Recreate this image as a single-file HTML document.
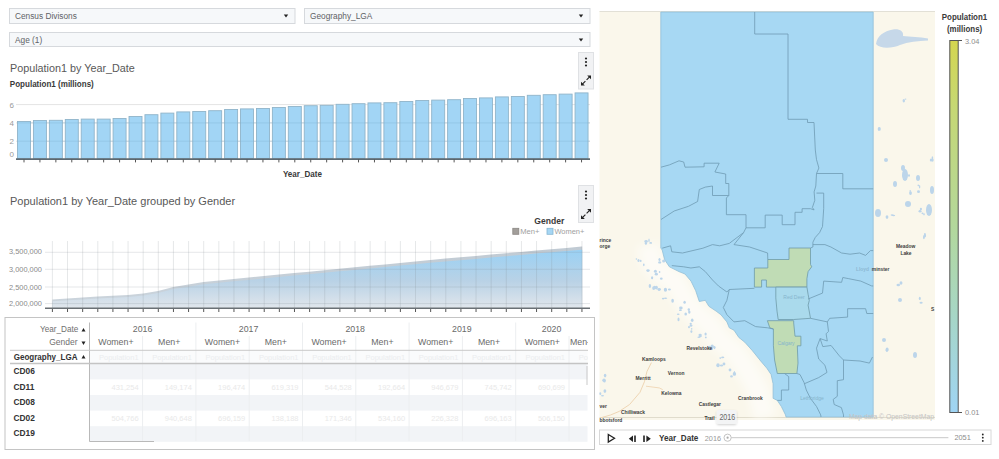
<!DOCTYPE html><html><head><meta charset="utf-8"><style>html,body{margin:0;padding:0;background:#fff;width:999px;height:459px;overflow:hidden}svg{display:block;font-family:"Liberation Sans",sans-serif}</style></head><body>
<svg width="999" height="459" viewBox="0 0 999 459">
<defs><linearGradient id="areaG" gradientUnits="userSpaceOnUse" x1="0" y1="248" x2="0" y2="308"><stop offset="0" stop-color="#98d1f5"/><stop offset="0.55" stop-color="#b9d2e6"/><stop offset="1" stop-color="#e0e6ec"/></linearGradient><linearGradient id="menG" gradientUnits="userSpaceOnUse" x1="0" y1="246" x2="0" y2="308"><stop offset="0" stop-color="#c0cad3"/><stop offset="1" stop-color="#ccd5dd"/></linearGradient><linearGradient id="legG" x1="0" y1="0" x2="0" y2="1"><stop offset="0" stop-color="#d4d650"/><stop offset="0.18" stop-color="#c6d874"/><stop offset="0.5" stop-color="#b3d89c"/><stop offset="0.75" stop-color="#a6d6c8"/><stop offset="1" stop-color="#9fd4f4"/></linearGradient><filter id="sh" x="-20%" y="-20%" width="140%" height="160%"><feDropShadow dx="0" dy="1" stdDeviation="1" flood-color="#000" flood-opacity="0.18"/></filter></defs>
<rect x="9.5" y="8.5" width="285.5" height="15" fill="#f6f8fa" stroke="#d6d9dd" stroke-width="1"/>
<text x="15" y="18.6" font-size="8.3" fill="#606266" font-weight="400" text-anchor="start" >Census Divisons</text>
<path d="M283.8 14.5 L288.2 14.5 L286 17.5 Z" fill="#222"/>
<rect x="304.5" y="8.5" width="285.5" height="15" fill="#f6f8fa" stroke="#d6d9dd" stroke-width="1"/>
<text x="310" y="18.6" font-size="8.3" fill="#606266" font-weight="400" text-anchor="start" >Geography_LGA</text>
<path d="M578.8 14.5 L583.2 14.5 L581 17.5 Z" fill="#222"/>
<rect x="9.5" y="32.5" width="580.5" height="14" fill="#f6f8fa" stroke="#d6d9dd" stroke-width="1"/>
<text x="15" y="42.6" font-size="8.3" fill="#606266" font-weight="400" text-anchor="start" >Age (1)</text>
<path d="M578.8 38.5 L583.2 38.5 L581 41.5 Z" fill="#222"/>
<rect x="578.5" y="52.5" width="15" height="36.5" fill="#f1f2f4" stroke="#dfe1e4" stroke-width="1"/>
<circle cx="586" cy="58.5" r="1.1" fill="#222"/>
<circle cx="586" cy="62" r="1.1" fill="#222"/>
<circle cx="586" cy="65.5" r="1.1" fill="#222"/>
<path d="M586.6 79.9 L589.6 76.9" stroke="#222" stroke-width="1.1"/>
<path d="M591 75.5 L587.2 75.5 L591 79.3 Z" fill="#222"/>
<path d="M585.4 81.1 L582.4 84.1" stroke="#222" stroke-width="1.1"/>
<path d="M581 85.5 L584.8 85.5 L581 81.7 Z" fill="#222"/>
<rect x="578.5" y="185.5" width="15" height="37" fill="#f1f2f4" stroke="#dfe1e4" stroke-width="1"/>
<circle cx="586" cy="191.5" r="1.1" fill="#222"/>
<circle cx="586" cy="195" r="1.1" fill="#222"/>
<circle cx="586" cy="198.5" r="1.1" fill="#222"/>
<path d="M586.6 213.4 L589.6 210.4" stroke="#222" stroke-width="1.1"/>
<path d="M591 209 L587.2 209 L591 212.8 Z" fill="#222"/>
<path d="M585.4 214.6 L582.4 217.6" stroke="#222" stroke-width="1.1"/>
<path d="M581 219 L584.8 219 L581 215.2 Z" fill="#222"/>
<text x="10" y="71.6" font-size="10.8" fill="#585858" font-weight="400" text-anchor="start" >Population1 by Year_Date</text>
<text x="9.8" y="87.2" font-size="8.9" fill="#3a3a3a" font-weight="700" text-anchor="start"  textLength="84" lengthAdjust="spacingAndGlyphs">Population1 (millions)</text>
<line x1="16" y1="104.6" x2="590" y2="104.6" stroke="#e4e4e4" stroke-width="1"/>
<line x1="16" y1="122.9" x2="590" y2="122.9" stroke="#e4e4e4" stroke-width="1"/>
<line x1="16" y1="141.2" x2="590" y2="141.2" stroke="#e4e4e4" stroke-width="1"/>
<text x="9.4" y="107.5" font-size="8" fill="#9a9a9a" font-weight="400" text-anchor="start" >6</text>
<text x="9.4" y="125.8" font-size="8" fill="#9a9a9a" font-weight="400" text-anchor="start" >4</text>
<text x="9.4" y="144.1" font-size="8" fill="#9a9a9a" font-weight="400" text-anchor="start" >2</text>
<text x="9.4" y="157.2" font-size="8" fill="#9a9a9a" font-weight="400" text-anchor="start" >0</text>
<rect x="17.50" y="121.50" width="13" height="36.90" fill="#a2d5f5" stroke="#90b4c9" stroke-width="0.9"/>
<rect x="33.43" y="120.50" width="13" height="37.90" fill="#a2d5f5" stroke="#90b4c9" stroke-width="0.9"/>
<rect x="49.36" y="120.30" width="13" height="38.10" fill="#a2d5f5" stroke="#90b4c9" stroke-width="0.9"/>
<rect x="65.29" y="119.50" width="13" height="38.90" fill="#a2d5f5" stroke="#90b4c9" stroke-width="0.9"/>
<rect x="81.22" y="119.10" width="13" height="39.30" fill="#a2d5f5" stroke="#90b4c9" stroke-width="0.9"/>
<rect x="97.15" y="119.10" width="13" height="39.30" fill="#a2d5f5" stroke="#90b4c9" stroke-width="0.9"/>
<rect x="113.08" y="118.50" width="13" height="39.90" fill="#a2d5f5" stroke="#90b4c9" stroke-width="0.9"/>
<rect x="129.01" y="116.50" width="13" height="41.90" fill="#a2d5f5" stroke="#90b4c9" stroke-width="0.9"/>
<rect x="144.94" y="114.70" width="13" height="43.70" fill="#a2d5f5" stroke="#90b4c9" stroke-width="0.9"/>
<rect x="160.87" y="113.10" width="13" height="45.30" fill="#a2d5f5" stroke="#90b4c9" stroke-width="0.9"/>
<rect x="176.80" y="111.90" width="13" height="46.50" fill="#a2d5f5" stroke="#90b4c9" stroke-width="0.9"/>
<rect x="192.73" y="111.50" width="13" height="46.90" fill="#a2d5f5" stroke="#90b4c9" stroke-width="0.9"/>
<rect x="208.66" y="110.70" width="13" height="47.70" fill="#a2d5f5" stroke="#90b4c9" stroke-width="0.9"/>
<rect x="224.59" y="109.50" width="13" height="48.90" fill="#a2d5f5" stroke="#90b4c9" stroke-width="0.9"/>
<rect x="240.52" y="108.90" width="13" height="49.50" fill="#a2d5f5" stroke="#90b4c9" stroke-width="0.9"/>
<rect x="256.45" y="108.50" width="13" height="49.90" fill="#a2d5f5" stroke="#90b4c9" stroke-width="0.9"/>
<rect x="272.38" y="107.50" width="13" height="50.90" fill="#a2d5f5" stroke="#90b4c9" stroke-width="0.9"/>
<rect x="288.31" y="106.50" width="13" height="51.90" fill="#a2d5f5" stroke="#90b4c9" stroke-width="0.9"/>
<rect x="304.24" y="105.70" width="13" height="52.70" fill="#a2d5f5" stroke="#90b4c9" stroke-width="0.9"/>
<rect x="320.17" y="105.30" width="13" height="53.10" fill="#a2d5f5" stroke="#90b4c9" stroke-width="0.9"/>
<rect x="336.10" y="104.30" width="13" height="54.10" fill="#a2d5f5" stroke="#90b4c9" stroke-width="0.9"/>
<rect x="352.03" y="103.70" width="13" height="54.70" fill="#a2d5f5" stroke="#90b4c9" stroke-width="0.9"/>
<rect x="367.96" y="102.90" width="13" height="55.50" fill="#a2d5f5" stroke="#90b4c9" stroke-width="0.9"/>
<rect x="383.89" y="102.70" width="13" height="55.70" fill="#a2d5f5" stroke="#90b4c9" stroke-width="0.9"/>
<rect x="399.82" y="101.50" width="13" height="56.90" fill="#a2d5f5" stroke="#90b4c9" stroke-width="0.9"/>
<rect x="415.75" y="100.50" width="13" height="57.90" fill="#a2d5f5" stroke="#90b4c9" stroke-width="0.9"/>
<rect x="431.68" y="100.10" width="13" height="58.30" fill="#a2d5f5" stroke="#90b4c9" stroke-width="0.9"/>
<rect x="447.61" y="99.70" width="13" height="58.70" fill="#a2d5f5" stroke="#90b4c9" stroke-width="0.9"/>
<rect x="463.54" y="98.50" width="13" height="59.90" fill="#a2d5f5" stroke="#90b4c9" stroke-width="0.9"/>
<rect x="479.47" y="97.90" width="13" height="60.50" fill="#a2d5f5" stroke="#90b4c9" stroke-width="0.9"/>
<rect x="495.40" y="96.90" width="13" height="61.50" fill="#a2d5f5" stroke="#90b4c9" stroke-width="0.9"/>
<rect x="511.33" y="96.50" width="13" height="61.90" fill="#a2d5f5" stroke="#90b4c9" stroke-width="0.9"/>
<rect x="527.26" y="95.30" width="13" height="63.10" fill="#a2d5f5" stroke="#90b4c9" stroke-width="0.9"/>
<rect x="543.19" y="94.70" width="13" height="63.70" fill="#a2d5f5" stroke="#90b4c9" stroke-width="0.9"/>
<rect x="559.12" y="94.10" width="13" height="64.30" fill="#a2d5f5" stroke="#90b4c9" stroke-width="0.9"/>
<rect x="575.05" y="92.90" width="13" height="65.50" fill="#a2d5f5" stroke="#90b4c9" stroke-width="0.9"/>
<line x1="17" y1="122.9" x2="590" y2="122.9" stroke="#7fb3d0" stroke-opacity="0.35" stroke-width="1"/>
<line x1="17" y1="141.2" x2="590" y2="141.2" stroke="#7fb3d0" stroke-opacity="0.35" stroke-width="1"/>
<line x1="16" y1="159.1" x2="590" y2="159.1" stroke="#5d6a72" stroke-width="1.6"/>
<line x1="24.00" y1="159.4" x2="24.00" y2="162.4" stroke="#555" stroke-width="1"/>
<line x1="39.93" y1="159.4" x2="39.93" y2="162.4" stroke="#555" stroke-width="1"/>
<line x1="55.86" y1="159.4" x2="55.86" y2="162.4" stroke="#555" stroke-width="1"/>
<line x1="71.79" y1="159.4" x2="71.79" y2="162.4" stroke="#555" stroke-width="1"/>
<line x1="87.72" y1="159.4" x2="87.72" y2="162.4" stroke="#555" stroke-width="1"/>
<line x1="103.65" y1="159.4" x2="103.65" y2="162.4" stroke="#555" stroke-width="1"/>
<line x1="119.58" y1="159.4" x2="119.58" y2="162.4" stroke="#555" stroke-width="1"/>
<line x1="135.51" y1="159.4" x2="135.51" y2="162.4" stroke="#555" stroke-width="1"/>
<line x1="151.44" y1="159.4" x2="151.44" y2="162.4" stroke="#555" stroke-width="1"/>
<line x1="167.37" y1="159.4" x2="167.37" y2="162.4" stroke="#555" stroke-width="1"/>
<line x1="183.30" y1="159.4" x2="183.30" y2="162.4" stroke="#555" stroke-width="1"/>
<line x1="199.23" y1="159.4" x2="199.23" y2="162.4" stroke="#555" stroke-width="1"/>
<line x1="215.16" y1="159.4" x2="215.16" y2="162.4" stroke="#555" stroke-width="1"/>
<line x1="231.09" y1="159.4" x2="231.09" y2="162.4" stroke="#555" stroke-width="1"/>
<line x1="247.02" y1="159.4" x2="247.02" y2="162.4" stroke="#555" stroke-width="1"/>
<line x1="262.95" y1="159.4" x2="262.95" y2="162.4" stroke="#555" stroke-width="1"/>
<line x1="278.88" y1="159.4" x2="278.88" y2="162.4" stroke="#555" stroke-width="1"/>
<line x1="294.81" y1="159.4" x2="294.81" y2="162.4" stroke="#555" stroke-width="1"/>
<line x1="310.74" y1="159.4" x2="310.74" y2="162.4" stroke="#555" stroke-width="1"/>
<line x1="326.67" y1="159.4" x2="326.67" y2="162.4" stroke="#555" stroke-width="1"/>
<line x1="342.60" y1="159.4" x2="342.60" y2="162.4" stroke="#555" stroke-width="1"/>
<line x1="358.53" y1="159.4" x2="358.53" y2="162.4" stroke="#555" stroke-width="1"/>
<line x1="374.46" y1="159.4" x2="374.46" y2="162.4" stroke="#555" stroke-width="1"/>
<line x1="390.39" y1="159.4" x2="390.39" y2="162.4" stroke="#555" stroke-width="1"/>
<line x1="406.32" y1="159.4" x2="406.32" y2="162.4" stroke="#555" stroke-width="1"/>
<line x1="422.25" y1="159.4" x2="422.25" y2="162.4" stroke="#555" stroke-width="1"/>
<line x1="438.18" y1="159.4" x2="438.18" y2="162.4" stroke="#555" stroke-width="1"/>
<line x1="454.11" y1="159.4" x2="454.11" y2="162.4" stroke="#555" stroke-width="1"/>
<line x1="470.04" y1="159.4" x2="470.04" y2="162.4" stroke="#555" stroke-width="1"/>
<line x1="485.97" y1="159.4" x2="485.97" y2="162.4" stroke="#555" stroke-width="1"/>
<line x1="501.90" y1="159.4" x2="501.90" y2="162.4" stroke="#555" stroke-width="1"/>
<line x1="517.83" y1="159.4" x2="517.83" y2="162.4" stroke="#555" stroke-width="1"/>
<line x1="533.76" y1="159.4" x2="533.76" y2="162.4" stroke="#555" stroke-width="1"/>
<line x1="549.69" y1="159.4" x2="549.69" y2="162.4" stroke="#555" stroke-width="1"/>
<line x1="565.62" y1="159.4" x2="565.62" y2="162.4" stroke="#555" stroke-width="1"/>
<line x1="581.55" y1="159.4" x2="581.55" y2="162.4" stroke="#555" stroke-width="1"/>
<text x="302.4" y="176.8" font-size="8.5" fill="#3a3a3a" font-weight="700" text-anchor="middle"  textLength="39" lengthAdjust="spacingAndGlyphs">Year_Date</text>
<text x="10" y="204.5" font-size="11" fill="#585858" font-weight="400" text-anchor="start" >Population1 by Year_Date grouped by Gender</text>
<text x="549.3" y="224" font-size="9.2" fill="#3a3a3a" font-weight="700" text-anchor="middle"  textLength="30" lengthAdjust="spacingAndGlyphs">Gender</text>
<rect x="512.8" y="228.3" width="6" height="6" fill="#a29e9a" stroke="#8a8683" stroke-width="0.8"/>
<text x="520.3" y="234.2" font-size="8" fill="#a0a0a0" font-weight="400" text-anchor="start"  textLength="19.2" lengthAdjust="spacingAndGlyphs">Men+</text>
<rect x="547" y="228.3" width="6" height="6" fill="#a6d6f4" stroke="#86b6d2" stroke-width="0.8"/>
<text x="554.4" y="234.2" font-size="8" fill="#a0a0a0" font-weight="400" text-anchor="start"  textLength="30" lengthAdjust="spacingAndGlyphs">Women+</text>
<text x="9" y="254.4" font-size="7.4" fill="#8a8a8a" font-weight="400" text-anchor="start" >3,500,000</text>
<text x="9" y="271.6" font-size="7.4" fill="#8a8a8a" font-weight="400" text-anchor="start" >3,000,000</text>
<text x="9" y="289.6" font-size="7.4" fill="#8a8a8a" font-weight="400" text-anchor="start" >2,500,000</text>
<text x="9" y="306.2" font-size="7.4" fill="#8a8a8a" font-weight="400" text-anchor="start" >2,000,000</text>
<polygon points="52.4,308 52.4,299.4 67.5,298.5 82.6,297.5 97.7,296.5 112.8,295.8 128.0,295.0 143.2,293.6 158.0,291.0 173.4,287.0 188.4,284.5 203.6,282.0 219.0,280.5 233.6,279.0 248.7,277.5 263.9,276.1 279.0,274.6 294.1,273.1 309.2,271.7 324.4,270.2 339.5,268.8 354.6,267.3 369.8,265.8 384.9,264.4 400.0,262.9 415.2,261.4 430.3,260.0 445.4,258.6 460.5,257.3 475.7,255.9 490.8,254.6 505.9,253.3 521.1,251.9 536.2,250.6 551.3,249.2 566.5,247.9 581.6,246.5 582.2,246.5 582.2,308" fill="url(#menG)"/>
<polygon points="52.4,308 52.4,301.2 67.5,300.3 82.6,299.4 97.7,298.4 112.8,297.8 128.0,297.0 143.2,295.6 158.0,293.1 173.4,289.1 188.4,286.7 203.6,284.2 219.0,282.7 233.6,281.3 248.7,279.9 263.9,278.4 279.0,277.0 294.1,275.6 309.2,274.2 324.4,272.7 339.5,271.3 354.6,269.9 369.8,268.5 384.9,267.0 400.0,265.6 415.2,264.2 430.3,262.8 445.4,261.5 460.5,260.2 475.7,258.9 490.8,257.6 505.9,256.3 521.1,255.0 536.2,253.6 551.3,252.3 566.5,251.0 581.6,249.7 582.2,249.7 582.2,308" fill="url(#areaG)"/>
<line x1="45" y1="252.3" x2="590" y2="252.3" stroke="#7d8891" stroke-opacity="0.2" stroke-width="1"/>
<line x1="45" y1="269.3" x2="590" y2="269.3" stroke="#7d8891" stroke-opacity="0.2" stroke-width="1"/>
<line x1="45" y1="287" x2="590" y2="287" stroke="#7d8891" stroke-opacity="0.2" stroke-width="1"/>
<line x1="45" y1="303.6" x2="590" y2="303.6" stroke="#7d8891" stroke-opacity="0.2" stroke-width="1"/>
<line x1="52.40" y1="241" x2="52.40" y2="308" stroke="#7d8891" stroke-opacity="0.22" stroke-width="0.9"/>
<line x1="67.53" y1="241" x2="67.53" y2="308" stroke="#7d8891" stroke-opacity="0.22" stroke-width="0.9"/>
<line x1="82.66" y1="241" x2="82.66" y2="308" stroke="#7d8891" stroke-opacity="0.22" stroke-width="0.9"/>
<line x1="97.79" y1="241" x2="97.79" y2="308" stroke="#7d8891" stroke-opacity="0.22" stroke-width="0.9"/>
<line x1="112.92" y1="241" x2="112.92" y2="308" stroke="#7d8891" stroke-opacity="0.22" stroke-width="0.9"/>
<line x1="128.05" y1="241" x2="128.05" y2="308" stroke="#7d8891" stroke-opacity="0.22" stroke-width="0.9"/>
<line x1="143.18" y1="241" x2="143.18" y2="308" stroke="#7d8891" stroke-opacity="0.22" stroke-width="0.9"/>
<line x1="158.31" y1="241" x2="158.31" y2="308" stroke="#7d8891" stroke-opacity="0.22" stroke-width="0.9"/>
<line x1="173.44" y1="241" x2="173.44" y2="308" stroke="#7d8891" stroke-opacity="0.22" stroke-width="0.9"/>
<line x1="188.57" y1="241" x2="188.57" y2="308" stroke="#7d8891" stroke-opacity="0.22" stroke-width="0.9"/>
<line x1="203.70" y1="241" x2="203.70" y2="308" stroke="#7d8891" stroke-opacity="0.22" stroke-width="0.9"/>
<line x1="218.83" y1="241" x2="218.83" y2="308" stroke="#7d8891" stroke-opacity="0.22" stroke-width="0.9"/>
<line x1="233.96" y1="241" x2="233.96" y2="308" stroke="#7d8891" stroke-opacity="0.22" stroke-width="0.9"/>
<line x1="249.09" y1="241" x2="249.09" y2="308" stroke="#7d8891" stroke-opacity="0.22" stroke-width="0.9"/>
<line x1="264.22" y1="241" x2="264.22" y2="308" stroke="#7d8891" stroke-opacity="0.22" stroke-width="0.9"/>
<line x1="279.35" y1="241" x2="279.35" y2="308" stroke="#7d8891" stroke-opacity="0.22" stroke-width="0.9"/>
<line x1="294.48" y1="241" x2="294.48" y2="308" stroke="#7d8891" stroke-opacity="0.22" stroke-width="0.9"/>
<line x1="309.61" y1="241" x2="309.61" y2="308" stroke="#7d8891" stroke-opacity="0.22" stroke-width="0.9"/>
<line x1="324.74" y1="241" x2="324.74" y2="308" stroke="#7d8891" stroke-opacity="0.22" stroke-width="0.9"/>
<line x1="339.87" y1="241" x2="339.87" y2="308" stroke="#7d8891" stroke-opacity="0.22" stroke-width="0.9"/>
<line x1="355.00" y1="241" x2="355.00" y2="308" stroke="#7d8891" stroke-opacity="0.22" stroke-width="0.9"/>
<line x1="370.13" y1="241" x2="370.13" y2="308" stroke="#7d8891" stroke-opacity="0.22" stroke-width="0.9"/>
<line x1="385.26" y1="241" x2="385.26" y2="308" stroke="#7d8891" stroke-opacity="0.22" stroke-width="0.9"/>
<line x1="400.39" y1="241" x2="400.39" y2="308" stroke="#7d8891" stroke-opacity="0.22" stroke-width="0.9"/>
<line x1="415.52" y1="241" x2="415.52" y2="308" stroke="#7d8891" stroke-opacity="0.22" stroke-width="0.9"/>
<line x1="430.65" y1="241" x2="430.65" y2="308" stroke="#7d8891" stroke-opacity="0.22" stroke-width="0.9"/>
<line x1="445.78" y1="241" x2="445.78" y2="308" stroke="#7d8891" stroke-opacity="0.22" stroke-width="0.9"/>
<line x1="460.91" y1="241" x2="460.91" y2="308" stroke="#7d8891" stroke-opacity="0.22" stroke-width="0.9"/>
<line x1="476.04" y1="241" x2="476.04" y2="308" stroke="#7d8891" stroke-opacity="0.22" stroke-width="0.9"/>
<line x1="491.17" y1="241" x2="491.17" y2="308" stroke="#7d8891" stroke-opacity="0.22" stroke-width="0.9"/>
<line x1="506.30" y1="241" x2="506.30" y2="308" stroke="#7d8891" stroke-opacity="0.22" stroke-width="0.9"/>
<line x1="521.43" y1="241" x2="521.43" y2="308" stroke="#7d8891" stroke-opacity="0.22" stroke-width="0.9"/>
<line x1="536.56" y1="241" x2="536.56" y2="308" stroke="#7d8891" stroke-opacity="0.22" stroke-width="0.9"/>
<line x1="551.69" y1="241" x2="551.69" y2="308" stroke="#7d8891" stroke-opacity="0.22" stroke-width="0.9"/>
<line x1="566.82" y1="241" x2="566.82" y2="308" stroke="#7d8891" stroke-opacity="0.22" stroke-width="0.9"/>
<line x1="581.95" y1="241" x2="581.95" y2="308" stroke="#7d8891" stroke-opacity="0.22" stroke-width="0.9"/>
<line x1="45" y1="308.3" x2="590" y2="308.3" stroke="#6a7075" stroke-width="1.6"/>
<line x1="52.40" y1="309" x2="52.40" y2="312" stroke="#555" stroke-width="1"/>
<line x1="67.53" y1="309" x2="67.53" y2="312" stroke="#555" stroke-width="1"/>
<line x1="82.66" y1="309" x2="82.66" y2="312" stroke="#555" stroke-width="1"/>
<line x1="97.79" y1="309" x2="97.79" y2="312" stroke="#555" stroke-width="1"/>
<line x1="112.92" y1="309" x2="112.92" y2="312" stroke="#555" stroke-width="1"/>
<line x1="128.05" y1="309" x2="128.05" y2="312" stroke="#555" stroke-width="1"/>
<line x1="143.18" y1="309" x2="143.18" y2="312" stroke="#555" stroke-width="1"/>
<line x1="158.31" y1="309" x2="158.31" y2="312" stroke="#555" stroke-width="1"/>
<line x1="173.44" y1="309" x2="173.44" y2="312" stroke="#555" stroke-width="1"/>
<line x1="188.57" y1="309" x2="188.57" y2="312" stroke="#555" stroke-width="1"/>
<line x1="203.70" y1="309" x2="203.70" y2="312" stroke="#555" stroke-width="1"/>
<line x1="218.83" y1="309" x2="218.83" y2="312" stroke="#555" stroke-width="1"/>
<line x1="233.96" y1="309" x2="233.96" y2="312" stroke="#555" stroke-width="1"/>
<line x1="249.09" y1="309" x2="249.09" y2="312" stroke="#555" stroke-width="1"/>
<line x1="264.22" y1="309" x2="264.22" y2="312" stroke="#555" stroke-width="1"/>
<line x1="279.35" y1="309" x2="279.35" y2="312" stroke="#555" stroke-width="1"/>
<line x1="294.48" y1="309" x2="294.48" y2="312" stroke="#555" stroke-width="1"/>
<line x1="309.61" y1="309" x2="309.61" y2="312" stroke="#555" stroke-width="1"/>
<line x1="324.74" y1="309" x2="324.74" y2="312" stroke="#555" stroke-width="1"/>
<line x1="339.87" y1="309" x2="339.87" y2="312" stroke="#555" stroke-width="1"/>
<line x1="355.00" y1="309" x2="355.00" y2="312" stroke="#555" stroke-width="1"/>
<line x1="370.13" y1="309" x2="370.13" y2="312" stroke="#555" stroke-width="1"/>
<line x1="385.26" y1="309" x2="385.26" y2="312" stroke="#555" stroke-width="1"/>
<line x1="400.39" y1="309" x2="400.39" y2="312" stroke="#555" stroke-width="1"/>
<line x1="415.52" y1="309" x2="415.52" y2="312" stroke="#555" stroke-width="1"/>
<line x1="430.65" y1="309" x2="430.65" y2="312" stroke="#555" stroke-width="1"/>
<line x1="445.78" y1="309" x2="445.78" y2="312" stroke="#555" stroke-width="1"/>
<line x1="460.91" y1="309" x2="460.91" y2="312" stroke="#555" stroke-width="1"/>
<line x1="476.04" y1="309" x2="476.04" y2="312" stroke="#555" stroke-width="1"/>
<line x1="491.17" y1="309" x2="491.17" y2="312" stroke="#555" stroke-width="1"/>
<line x1="506.30" y1="309" x2="506.30" y2="312" stroke="#555" stroke-width="1"/>
<line x1="521.43" y1="309" x2="521.43" y2="312" stroke="#555" stroke-width="1"/>
<line x1="536.56" y1="309" x2="536.56" y2="312" stroke="#555" stroke-width="1"/>
<line x1="551.69" y1="309" x2="551.69" y2="312" stroke="#555" stroke-width="1"/>
<line x1="566.82" y1="309" x2="566.82" y2="312" stroke="#555" stroke-width="1"/>
<line x1="581.95" y1="309" x2="581.95" y2="312" stroke="#555" stroke-width="1"/>
<rect x="5" y="317.5" width="589.5" height="132" fill="#fff" stroke="#c4c4c4" stroke-width="1"/>
<rect x="89.5" y="363.8" width="498" height="15.6" fill="#f2f4f7"/>
<rect x="89.5" y="395.0" width="498" height="15.6" fill="#f2f4f7"/>
<rect x="89.5" y="426.2" width="498" height="15.6" fill="#f2f4f7"/>
<rect x="89.5" y="350.5" width="498" height="13" fill="#fafbfc"/>
<line x1="142.6" y1="336" x2="142.6" y2="441" stroke="#eceef0" stroke-width="1"/>
<line x1="195.9" y1="322.5" x2="195.9" y2="441" stroke="#eceef0" stroke-width="1"/>
<line x1="249.2" y1="336" x2="249.2" y2="441" stroke="#eceef0" stroke-width="1"/>
<line x1="302.5" y1="322.5" x2="302.5" y2="441" stroke="#eceef0" stroke-width="1"/>
<line x1="355.8" y1="336" x2="355.8" y2="441" stroke="#eceef0" stroke-width="1"/>
<line x1="409.1" y1="322.5" x2="409.1" y2="441" stroke="#eceef0" stroke-width="1"/>
<line x1="462.4" y1="336" x2="462.4" y2="441" stroke="#eceef0" stroke-width="1"/>
<line x1="515.7" y1="322.5" x2="515.7" y2="441" stroke="#eceef0" stroke-width="1"/>
<line x1="569.0" y1="336" x2="569.0" y2="441" stroke="#eceef0" stroke-width="1"/>
<line x1="89.5" y1="322.5" x2="89.5" y2="441.5" stroke="#b9b9b9" stroke-width="1"/>
<line x1="10" y1="350.3" x2="588" y2="350.3" stroke="#c8c8c8" stroke-width="1"/>
<line x1="10" y1="363.5" x2="588" y2="363.5" stroke="#c4c4c4" stroke-width="1.4"/>
<line x1="89.5" y1="441.5" x2="154" y2="441.5" stroke="#b9b9b9" stroke-width="1"/>
<line x1="587" y1="366" x2="587" y2="385" stroke="#c9c9c9" stroke-width="1"/>
<text x="78.4" y="332.2" font-size="8.2" fill="#707070" font-weight="400" text-anchor="end" >Year_Date</text>
<path d="M81.5 331.5 L85.5 331.5 L83.5 328 Z" fill="#222"/>
<text x="77.5" y="345.2" font-size="8.5" fill="#707070" font-weight="400" text-anchor="end" >Gender</text>
<path d="M81.5 341.5 L85.5 341.5 L83.5 345 Z" fill="#222"/>
<text x="13.7" y="359.6" font-size="8.3" fill="#333" font-weight="700" text-anchor="start"  textLength="63.8" lengthAdjust="spacingAndGlyphs">Geography_LGA</text>
<path d="M81.5 358.5 L85.5 358.5 L83.5 355 Z" fill="#222"/>
<text x="13.5" y="373.9" font-size="8.4" fill="#333" font-weight="700" text-anchor="start" >CD06</text>
<text x="13.5" y="389.5" font-size="8.4" fill="#333" font-weight="700" text-anchor="start" >CD11</text>
<text x="13.5" y="405.09999999999997" font-size="8.4" fill="#333" font-weight="700" text-anchor="start" >CD08</text>
<text x="13.5" y="420.7" font-size="8.4" fill="#333" font-weight="700" text-anchor="start" >CD02</text>
<text x="13.5" y="436.29999999999995" font-size="8.4" fill="#333" font-weight="700" text-anchor="start" >CD19</text>
<text x="142.6" y="332.3" font-size="8.8" fill="#6a6a6a" font-weight="400" text-anchor="middle" >2016</text>
<text x="248.6" y="332.3" font-size="8.8" fill="#6a6a6a" font-weight="400" text-anchor="middle" >2017</text>
<text x="355.2" y="332.3" font-size="8.8" fill="#6a6a6a" font-weight="400" text-anchor="middle" >2018</text>
<text x="461.8" y="332.3" font-size="8.8" fill="#6a6a6a" font-weight="400" text-anchor="middle" >2019</text>
<text x="551.6" y="332.3" font-size="8.8" fill="#6a6a6a" font-weight="400" text-anchor="middle" >2020</text>
<text x="115.9" y="345.3" font-size="8.8" fill="#6a6a6a" font-weight="400" text-anchor="middle" >Women+</text>
<text x="169.2" y="345.3" font-size="8.8" fill="#6a6a6a" font-weight="400" text-anchor="middle" >Men+</text>
<text x="222.49999999999997" y="345.3" font-size="8.8" fill="#6a6a6a" font-weight="400" text-anchor="middle" >Women+</text>
<text x="275.8" y="345.3" font-size="8.8" fill="#6a6a6a" font-weight="400" text-anchor="middle" >Men+</text>
<text x="329.1" y="345.3" font-size="8.8" fill="#6a6a6a" font-weight="400" text-anchor="middle" >Women+</text>
<text x="382.40000000000003" y="345.3" font-size="8.8" fill="#6a6a6a" font-weight="400" text-anchor="middle" >Men+</text>
<text x="435.7" y="345.3" font-size="8.8" fill="#6a6a6a" font-weight="400" text-anchor="middle" >Women+</text>
<text x="489.0" y="345.3" font-size="8.8" fill="#6a6a6a" font-weight="400" text-anchor="middle" >Men+</text>
<text x="542.3" y="345.3" font-size="8.8" fill="#6a6a6a" font-weight="400" text-anchor="middle" >Women+</text>
<text x="570" y="345.3" font-size="8.8" fill="#6a6a6a" font-weight="400" text-anchor="start" >Men-</text>
<clipPath id="tclip"><rect x="89.5" y="320" width="498.5" height="125"/></clipPath><g clip-path="url(#tclip)">
<text x="138.6" y="359.8" font-size="7.5" fill="#ebedef" font-weight="400" text-anchor="end" >Population1</text>
<text x="138.6" y="389.5" font-size="7.5" fill="#e9e9e9" font-weight="400" text-anchor="end" >431,254</text>
<text x="138.6" y="420.7" font-size="7.5" fill="#e9e9e9" font-weight="400" text-anchor="end" >504,766</text>
<text x="191.89999999999998" y="359.8" font-size="7.5" fill="#ebedef" font-weight="400" text-anchor="end" >Population1</text>
<text x="191.89999999999998" y="389.5" font-size="7.5" fill="#e9e9e9" font-weight="400" text-anchor="end" >149,174</text>
<text x="191.89999999999998" y="420.7" font-size="7.5" fill="#e9e9e9" font-weight="400" text-anchor="end" >940,648</text>
<text x="245.2" y="359.8" font-size="7.5" fill="#ebedef" font-weight="400" text-anchor="end" >Population1</text>
<text x="245.2" y="389.5" font-size="7.5" fill="#e9e9e9" font-weight="400" text-anchor="end" >196,474</text>
<text x="245.2" y="420.7" font-size="7.5" fill="#e9e9e9" font-weight="400" text-anchor="end" >696,159</text>
<text x="298.5" y="359.8" font-size="7.5" fill="#ebedef" font-weight="400" text-anchor="end" >Population1</text>
<text x="298.5" y="389.5" font-size="7.5" fill="#e9e9e9" font-weight="400" text-anchor="end" >619,319</text>
<text x="298.5" y="420.7" font-size="7.5" fill="#e9e9e9" font-weight="400" text-anchor="end" >138,188</text>
<text x="351.8" y="359.8" font-size="7.5" fill="#ebedef" font-weight="400" text-anchor="end" >Population1</text>
<text x="351.8" y="389.5" font-size="7.5" fill="#e9e9e9" font-weight="400" text-anchor="end" >544,528</text>
<text x="351.8" y="420.7" font-size="7.5" fill="#e9e9e9" font-weight="400" text-anchor="end" >171,346</text>
<text x="405.09999999999997" y="359.8" font-size="7.5" fill="#ebedef" font-weight="400" text-anchor="end" >Population1</text>
<text x="405.09999999999997" y="389.5" font-size="7.5" fill="#e9e9e9" font-weight="400" text-anchor="end" >192,664</text>
<text x="405.09999999999997" y="420.7" font-size="7.5" fill="#e9e9e9" font-weight="400" text-anchor="end" >534,160</text>
<text x="458.4" y="359.8" font-size="7.5" fill="#ebedef" font-weight="400" text-anchor="end" >Population1</text>
<text x="458.4" y="389.5" font-size="7.5" fill="#e9e9e9" font-weight="400" text-anchor="end" >946,679</text>
<text x="458.4" y="420.7" font-size="7.5" fill="#e9e9e9" font-weight="400" text-anchor="end" >226,328</text>
<text x="511.69999999999993" y="359.8" font-size="7.5" fill="#ebedef" font-weight="400" text-anchor="end" >Population1</text>
<text x="511.69999999999993" y="389.5" font-size="7.5" fill="#e9e9e9" font-weight="400" text-anchor="end" >745,742</text>
<text x="511.69999999999993" y="420.7" font-size="7.5" fill="#e9e9e9" font-weight="400" text-anchor="end" >696,163</text>
<text x="565.0" y="359.8" font-size="7.5" fill="#ebedef" font-weight="400" text-anchor="end" >Population1</text>
<text x="565.0" y="389.5" font-size="7.5" fill="#e9e9e9" font-weight="400" text-anchor="end" >690,699</text>
<text x="565.0" y="420.7" font-size="7.5" fill="#e9e9e9" font-weight="400" text-anchor="end" >506,150</text>
<text x="618.3" y="359.8" font-size="7.5" fill="#ebedef" font-weight="400" text-anchor="end" >Population1</text>
<text x="618.3" y="389.5" font-size="7.5" fill="#e9e9e9" font-weight="400" text-anchor="end" >326,147</text>
<text x="618.3" y="420.7" font-size="7.5" fill="#e9e9e9" font-weight="400" text-anchor="end" >670,979</text>
</g>
<rect x="588" y="322" width="6" height="127" fill="#fff"/>
<rect x="599.5" y="11" width="335.5" height="409" fill="#faf7eb"/>
<line x1="599.5" y1="11.5" x2="935" y2="11.5" stroke="#e2e0d6" stroke-width="1"/>
<line x1="599.5" y1="417.5" x2="935" y2="417.5" stroke="#d9d4c4" stroke-width="0.8"/>
<rect x="935" y="11" width="64" height="420" fill="#fff"/>
<path d="M876 44 C877 36 884 31 893 29.5 C899 28.5 904 31 903 36 C910 37 920 37 928 38.5 L928 40.5 C918 41 908 42 900 45 C892 48.5 880 49 876 44 Z" fill="#c6d8e9"/>
<polyline points="651.4,362.6 647,371.4 644.4,381.8 640,392.3 629.6,404.5 619.2,411.4 610.5,415 600,418" fill="none" stroke="#efd6b4" stroke-width="1"/>
<polyline points="646,386.2 659.2,387.9 662.7,389.6" fill="none" stroke="#efd6b4" stroke-width="0.9"/>
<filter id="wb" x="-30%" y="-10%" width="160%" height="120%"><feGaussianBlur stdDeviation="4"/></filter>
<polyline points="648,245 652,262 660,272 675,282 685,300 695,312 710,325 720,340 735,352 748,372 758,390 765,418" fill="none" stroke="#ffffff" stroke-opacity="0.55" stroke-width="22" filter="url(#wb)"/>
<polygon points="660.8,12 873.2,12 873.2,417 786,417 785.5,414.9 781.4,406.6 777.3,400.4 773.1,398.3 773.1,383.8 771.1,374.5 766.9,368.3 760.7,361 752.4,350.7 744.8,342.2 738.8,337.4 734,330.2 729.3,327.8 726.9,321.9 720.9,314.7 716.1,311.1 708.9,306.3 705.3,300.3 699.3,301.5 695.7,290.7 691,281.1 685,274 679,271.6 669.4,266.8 664.6,259.6 662.2,250 660.8,248" fill="#a7d8f3" stroke="#92bfd8" stroke-width="0.8"/>
<polygon points="754.4,268 767.8,268 767.8,259.5 789,259.5 789,248 810.5,248 810.5,264.4 811.7,266.8 808.1,271.6 806.9,278.7 806.9,287.1 766.4,287.1 766.4,280 761.6,280 761.6,287.1 754.4,287.1" fill="#c0dcb5" stroke="#6f9aa8" stroke-width="0.8"/>
<polygon points="775.8,287.1 806.9,287.1 808.1,294.3 809.3,300.3 808.1,305.1 810.5,318.3 793.7,319.5 778.2,319.5 777,311.1 775.8,297.9" fill="#aadaec" stroke="#6f9aa8" stroke-width="0.8"/>
<polygon points="767.4,320.7 793.7,320.7 793.7,323 795,336.2 800.9,336.2 800.9,345.8 797.3,345.8 798,363.1 796.9,373.5 777.3,373.5 774.6,360 773.4,345.8 773.4,329 769.8,327.8" fill="#c0dcb5" stroke="#6f9aa8" stroke-width="0.8"/>
<polyline points="754.7,12 754.7,34 788,34 788,119.3 807.5,119.3 807.5,122.5 814,122.5 815.3,150 816.5,159.6 818.9,168 816.5,173.5 815.8,186 814.1,191.9 814.8,200.3 812.4,207.5 814.1,209.9 810.5,208.7 802.1,208.7 802.1,212.3 795,212.3 795,224.7 782.2,224.7 782.2,215.1 765.2,215.1 765.2,227.8 746,227.8 746,214.7 726.4,214.7 726.4,198 728.8,195.5 728.8,183.5 725.7,183.5 725.7,174 714.9,172 719.2,163.2 704.1,163.2 704.1,166.8 685,167.2 683.7,162 679,160.8 669.4,164.9 661,167.2" fill="none" stroke="#6f9ab2" stroke-width="0.8"/>
<polyline points="728.8,195.5 712.5,195.5 712.5,186 705.3,187.1 699.3,189.5 697.6,201.5 688.5,206.3 674.2,211 661,219.5" fill="none" stroke="#6f9ab2" stroke-width="0.8"/>
<polyline points="816.5,173.5 842.8,173.5 842.8,188.8 873.2,188.8" fill="none" stroke="#6f9ab2" stroke-width="0.8"/>
<polyline points="816.5,193.1 823.7,193.1 823.7,208.7 822.5,226.6 821.3,229 819.6,232.6 815.3,237.4 812.9,242.2 812.9,247 810.5,248" fill="none" stroke="#6f9ab2" stroke-width="0.8"/>
<polyline points="812.9,244.6 824.9,244.6 830.9,247 841.6,253 850,254.2 859.6,253 865.6,255.4 870.4,250.6 873.2,250.6" fill="none" stroke="#6f9ab2" stroke-width="0.8"/>
<polyline points="746,227.8 743.6,232.6 734,239.8 729.3,243.4 719.7,245.8 712.5,244.6 702.9,248.2 682.5,253 671.8,251.8 670.6,245.8 662.2,248.2" fill="none" stroke="#6f9ab2" stroke-width="0.8"/>
<polyline points="743.6,232.6 734,244.6 749.6,247 767.6,253 767.8,259.5" fill="none" stroke="#6f9ab2" stroke-width="0.8"/>
<polyline points="671.8,265.6 683.7,266.8 690.9,268 699.3,266.8 705.3,271.6 712.5,280 718.5,286 726.9,292 729.3,289.5 754.4,288.3" fill="none" stroke="#6f9ab2" stroke-width="0.8"/>
<polyline points="729.3,289.5 726.9,300.3 723.3,307.5 726.9,314.7 734,321.9 744.8,320.7 755.6,326.6 767.6,327.8 773.4,329" fill="none" stroke="#6f9ab2" stroke-width="0.8"/>
<polyline points="808.1,299 822.5,293.1 823.7,281.1 841.6,282.3 842.8,277.5 848.8,278.7 860.8,281.1 871.6,285.9 873.2,286" fill="none" stroke="#6f9ab2" stroke-width="0.8"/>
<polyline points="810.5,318.3 827.3,321.9 829.7,318.3 847.6,317.1 847.6,308.7 865.6,308.7 866.8,313.5 873.2,313.5" fill="none" stroke="#6f9ab2" stroke-width="0.8"/>
<polyline points="827.3,321.9 828.5,331.4 826.1,333.8 827.3,341 820.1,338.6 822.8,346.6 831.1,345.5 839.4,355.9 843.5,360 843.5,379.7 837.3,380.7 837.3,396.3 833.2,399.4 834.2,404.5 841.4,407.6 843.5,414.9 843.5,417" fill="none" stroke="#6f9ab2" stroke-width="0.8"/>
<polyline points="820.1,338.6 816.5,348.2 818.7,359 824.9,365.2 827,372.4 818.7,377.6 804.2,383.8" fill="none" stroke="#6f9ab2" stroke-width="0.8"/>
<polyline points="796.9,373.5 800,374.5 804.2,382.8 806.3,390 810.4,398.3 816.6,406.6 820.7,414.9 821,417" fill="none" stroke="#6f9ab2" stroke-width="0.8"/>
<polyline points="784.5,373.5 788.7,376.6 788.7,390 781.4,390 781.4,400.4 777.3,400.4" fill="none" stroke="#6f9ab2" stroke-width="0.8"/>
<polyline points="843.5,360 860,361 869.4,363.1 872.5,357" fill="none" stroke="#6f9ab2" stroke-width="0.8"/>
<ellipse cx="645.9" cy="243.3" rx="1.1" ry="1.5" fill="#bcd5ea"/>
<ellipse cx="649.0" cy="240.4" rx="0.7" ry="1.8" fill="#bcd5ea"/>
<ellipse cx="646.1" cy="241.4" rx="1.8" ry="1.3" fill="#bcd5ea"/>
<ellipse cx="650.7" cy="242.9" rx="1.4" ry="0.9" fill="#bcd5ea"/>
<ellipse cx="654.7" cy="287.4" rx="1.3" ry="1.7" fill="#bcd5ea"/>
<ellipse cx="655.4" cy="271.3" rx="1.5" ry="1.5" fill="#bcd5ea"/>
<ellipse cx="648.0" cy="270.6" rx="1.7" ry="1.3" fill="#bcd5ea"/>
<ellipse cx="656.4" cy="287.6" rx="1.5" ry="1.9" fill="#bcd5ea"/>
<ellipse cx="649.9" cy="286.0" rx="1.2" ry="1.9" fill="#bcd5ea"/>
<ellipse cx="659.6" cy="271.9" rx="0.8" ry="1.0" fill="#bcd5ea"/>
<ellipse cx="661.3" cy="278.7" rx="1.4" ry="1.1" fill="#bcd5ea"/>
<ellipse cx="652.1" cy="277.7" rx="1.1" ry="1.5" fill="#bcd5ea"/>
<ellipse cx="653.7" cy="288.1" rx="1.5" ry="1.9" fill="#bcd5ea"/>
<ellipse cx="659.1" cy="289.8" rx="1.4" ry="0.9" fill="#bcd5ea"/>
<ellipse cx="659.2" cy="289.3" rx="1.7" ry="1.4" fill="#bcd5ea"/>
<ellipse cx="656.3" cy="274.2" rx="1.6" ry="1.4" fill="#bcd5ea"/>
<ellipse cx="665.4" cy="289.8" rx="1.6" ry="2.0" fill="#bcd5ea"/>
<ellipse cx="663.1" cy="298.6" rx="1.2" ry="0.9" fill="#bcd5ea"/>
<ellipse cx="665.5" cy="298.2" rx="1.7" ry="0.8" fill="#bcd5ea"/>
<ellipse cx="669.4" cy="289.5" rx="1.5" ry="1.1" fill="#bcd5ea"/>
<ellipse cx="672.6" cy="300.8" rx="1.3" ry="2.0" fill="#bcd5ea"/>
<ellipse cx="665.7" cy="289.9" rx="1.4" ry="0.7" fill="#bcd5ea"/>
<ellipse cx="680.4" cy="310.2" rx="1.4" ry="0.9" fill="#bcd5ea"/>
<ellipse cx="678.5" cy="319.4" rx="1.0" ry="1.9" fill="#bcd5ea"/>
<ellipse cx="688.8" cy="309.6" rx="1.2" ry="1.4" fill="#bcd5ea"/>
<ellipse cx="685.7" cy="313.9" rx="1.3" ry="1.5" fill="#bcd5ea"/>
<ellipse cx="689.3" cy="312.1" rx="1.2" ry="1.6" fill="#bcd5ea"/>
<ellipse cx="680.9" cy="308.0" rx="1.8" ry="1.4" fill="#bcd5ea"/>
<ellipse cx="684.6" cy="302.2" rx="1.2" ry="1.5" fill="#bcd5ea"/>
<ellipse cx="678.2" cy="314.3" rx="1.4" ry="0.8" fill="#bcd5ea"/>
<ellipse cx="691.0" cy="325.6" rx="1.4" ry="1.2" fill="#bcd5ea"/>
<ellipse cx="691.7" cy="328.9" rx="0.7" ry="0.8" fill="#bcd5ea"/>
<ellipse cx="691.4" cy="331.6" rx="1.0" ry="1.3" fill="#bcd5ea"/>
<ellipse cx="690.7" cy="323.8" rx="1.1" ry="1.1" fill="#bcd5ea"/>
<ellipse cx="689.0" cy="327.1" rx="1.0" ry="1.2" fill="#bcd5ea"/>
<ellipse cx="692.2" cy="320.3" rx="1.3" ry="1.7" fill="#bcd5ea"/>
<ellipse cx="700.1" cy="334.7" rx="1.6" ry="1.0" fill="#bcd5ea"/>
<ellipse cx="698.9" cy="337.2" rx="1.5" ry="0.8" fill="#bcd5ea"/>
<ellipse cx="700.2" cy="336.0" rx="1.6" ry="1.3" fill="#bcd5ea"/>
<ellipse cx="705.6" cy="334.0" rx="1.1" ry="1.5" fill="#bcd5ea"/>
<ellipse cx="705.8" cy="337.4" rx="0.9" ry="0.9" fill="#bcd5ea"/>
<ellipse cx="712.2" cy="346.3" rx="1.6" ry="1.8" fill="#bcd5ea"/>
<ellipse cx="709.5" cy="347.3" rx="1.6" ry="1.5" fill="#bcd5ea"/>
<ellipse cx="714.5" cy="348.1" rx="0.8" ry="1.1" fill="#bcd5ea"/>
<ellipse cx="714.4" cy="347.3" rx="1.1" ry="1.2" fill="#bcd5ea"/>
<ellipse cx="711.4" cy="348.9" rx="1.7" ry="0.9" fill="#bcd5ea"/>
<ellipse cx="718.0" cy="365.3" rx="1.7" ry="2.0" fill="#bcd5ea"/>
<ellipse cx="721.5" cy="365.4" rx="1.7" ry="1.0" fill="#bcd5ea"/>
<ellipse cx="724.0" cy="364.0" rx="1.4" ry="1.4" fill="#bcd5ea"/>
<ellipse cx="720.3" cy="358.1" rx="1.0" ry="0.8" fill="#bcd5ea"/>
<ellipse cx="722.7" cy="357.4" rx="1.6" ry="0.8" fill="#bcd5ea"/>
<ellipse cx="734.4" cy="373.9" rx="1.7" ry="1.9" fill="#bcd5ea"/>
<ellipse cx="734.4" cy="372.8" rx="0.7" ry="1.7" fill="#bcd5ea"/>
<ellipse cx="730.0" cy="370.0" rx="1.4" ry="1.4" fill="#bcd5ea"/>
<ellipse cx="731.5" cy="376.4" rx="1.4" ry="1.1" fill="#bcd5ea"/>
<ellipse cx="604.5" cy="380.9" rx="1.2" ry="1.7" fill="#bcd5ea"/>
<ellipse cx="605.1" cy="375.6" rx="1.3" ry="1.8" fill="#bcd5ea"/>
<ellipse cx="604.0" cy="380.3" rx="1.7" ry="1.7" fill="#bcd5ea"/>
<ellipse cx="604.9" cy="391.1" rx="1.4" ry="1.8" fill="#bcd5ea"/>
<ellipse cx="600.3" cy="393.7" rx="1.0" ry="1.4" fill="#bcd5ea"/>
<ellipse cx="602.5" cy="395.7" rx="1.6" ry="0.7" fill="#bcd5ea"/>
<ellipse cx="636.4" cy="259.0" rx="0.8" ry="0.8" fill="#bcd5ea"/>
<ellipse cx="643.8" cy="264.8" rx="0.8" ry="1.4" fill="#bcd5ea"/>
<ellipse cx="638.5" cy="260.5" rx="1.1" ry="1.5" fill="#bcd5ea"/>
<ellipse cx="640.7" cy="260.9" rx="0.9" ry="1.1" fill="#bcd5ea"/>
<ellipse cx="659.7" cy="262.4" rx="1.5" ry="1.2" fill="#bcd5ea"/>
<ellipse cx="659.5" cy="259.4" rx="1.1" ry="1.5" fill="#bcd5ea"/>
<ellipse cx="663.7" cy="261.0" rx="1.6" ry="1.5" fill="#bcd5ea"/>
<ellipse cx="904.3" cy="170.5" rx="1.2" ry="1.6" fill="#bcd5ea"/>
<ellipse cx="904.2" cy="174.3" rx="1.2" ry="1.0" fill="#bcd5ea"/>
<ellipse cx="905.4" cy="174.3" rx="0.8" ry="1.3" fill="#bcd5ea"/>
<ellipse cx="904.3" cy="176.6" rx="1.7" ry="1.2" fill="#bcd5ea"/>
<ellipse cx="909.0" cy="175.5" rx="1.0" ry="1.3" fill="#bcd5ea"/>
<ellipse cx="910.5" cy="193.1" rx="1.4" ry="1.9" fill="#bcd5ea"/>
<ellipse cx="918.5" cy="191.7" rx="1.5" ry="1.4" fill="#bcd5ea"/>
<ellipse cx="910.2" cy="190.9" rx="0.7" ry="0.9" fill="#bcd5ea"/>
<ellipse cx="918.3" cy="185.4" rx="0.8" ry="0.8" fill="#bcd5ea"/>
<ellipse cx="919.6" cy="186.8" rx="0.7" ry="1.8" fill="#bcd5ea"/>
<ellipse cx="887.0" cy="217.1" rx="1.4" ry="1.8" fill="#bcd5ea"/>
<ellipse cx="893.6" cy="215.5" rx="1.6" ry="0.7" fill="#bcd5ea"/>
<ellipse cx="892.1" cy="215.1" rx="1.5" ry="0.8" fill="#bcd5ea"/>
<ellipse cx="924.0" cy="214.3" rx="0.8" ry="1.1" fill="#bcd5ea"/>
<ellipse cx="922.5" cy="213.3" rx="1.0" ry="0.9" fill="#bcd5ea"/>
<ellipse cx="920.0" cy="211.2" rx="1.5" ry="1.2" fill="#bcd5ea"/>
<ellipse cx="920.9" cy="209.0" rx="1.1" ry="1.2" fill="#bcd5ea"/>
<ellipse cx="898.3" cy="285.0" rx="1.8" ry="1.2" fill="#bcd5ea"/>
<ellipse cx="901.0" cy="283.0" rx="1.5" ry="1.7" fill="#bcd5ea"/>
<ellipse cx="931.0" cy="160.1" rx="1.2" ry="1.5" fill="#bcd5ea"/>
<ellipse cx="932.4" cy="157.9" rx="0.8" ry="1.7" fill="#bcd5ea"/>
<ellipse cx="932.5" cy="160.1" rx="1.2" ry="1.6" fill="#bcd5ea"/>
<ellipse cx="878.7" cy="129.1" rx="0.9" ry="1.5" fill="#bcd5ea"/>
<ellipse cx="879.3" cy="128.9" rx="1.5" ry="1.9" fill="#bcd5ea"/>
<ellipse cx="903.8" cy="100.8" rx="1.2" ry="1.8" fill="#bcd5ea"/>
<ellipse cx="905.5" cy="99.1" rx="0.9" ry="0.7" fill="#bcd5ea"/>
<ellipse cx="924.9" cy="234.1" rx="0.9" ry="1.2" fill="#bcd5ea"/>
<ellipse cx="923.9" cy="237.2" rx="0.9" ry="2.0" fill="#bcd5ea"/>
<ellipse cx="924.9" cy="235.8" rx="1.2" ry="1.8" fill="#bcd5ea"/>
<ellipse cx="886.9" cy="350.3" rx="1.2" ry="1.6" fill="#bcd5ea"/>
<ellipse cx="887.1" cy="349.4" rx="1.5" ry="1.9" fill="#bcd5ea"/>
<ellipse cx="919.8" cy="298.4" rx="1.0" ry="1.6" fill="#bcd5ea"/>
<ellipse cx="921.1" cy="302.8" rx="1.6" ry="1.0" fill="#bcd5ea"/>
<ellipse cx="905" cy="175" rx="3" ry="6" fill="#bcd5ea"/>
<ellipse cx="903" cy="168" rx="2" ry="3" fill="#bcd5ea"/>
<ellipse cx="929" cy="210" rx="3" ry="6" fill="#bcd5ea"/>
<ellipse cx="878" cy="213" rx="3" ry="4" fill="#bcd5ea"/>
<ellipse cx="908" cy="204" rx="3" ry="3" fill="#bcd5ea"/>
<ellipse cx="895" cy="184" rx="2" ry="3" fill="#bcd5ea"/>
<ellipse cx="886" cy="160" rx="2" ry="2" fill="#bcd5ea"/>
<ellipse cx="918" cy="178" rx="2" ry="3" fill="#bcd5ea"/>
<ellipse cx="932" cy="190" rx="2" ry="4" fill="#bcd5ea"/>
<ellipse cx="900" cy="300" rx="2" ry="2" fill="#bcd5ea"/>
<ellipse cx="884" cy="340" rx="2" ry="2" fill="#bcd5ea"/>
<ellipse cx="915" cy="355" rx="2" ry="3" fill="#bcd5ea"/>
<text x="794" y="298.5" font-size="5" fill="#86b5cc" font-weight="400" text-anchor="middle" >Red Deer</text>
<text x="786" y="344.5" font-size="5" fill="#86b5cc" font-weight="400" text-anchor="middle" >Calgary</text>
<text x="812" y="400" font-size="5" fill="#86b5cc" font-weight="400" text-anchor="middle" >Lethbridge</text>
<text x="599.5" y="242.4" font-size="4.9" fill="#3c3c3c" font-weight="700" text-anchor="start" >rince</text>
<text x="599.5" y="248.2" font-size="4.9" fill="#3c3c3c" font-weight="700" text-anchor="start" >orge</text>
<text x="686.5" y="350" font-size="4.9" fill="#3c3c3c" font-weight="700" text-anchor="start" >Revelstoke</text>
<text x="642" y="360.5" font-size="4.9" fill="#3c3c3c" font-weight="700" text-anchor="start" >Kamloops</text>
<text x="667.8" y="375" font-size="4.9" fill="#3c3c3c" font-weight="700" text-anchor="start" >Vernon</text>
<text x="635.5" y="380" font-size="4.9" fill="#3c3c3c" font-weight="700" text-anchor="start" >Merritt</text>
<text x="661.3" y="394.5" font-size="4.9" fill="#3c3c3c" font-weight="700" text-anchor="start" >Kelowna</text>
<text x="698.7" y="406" font-size="4.9" fill="#3c3c3c" font-weight="700" text-anchor="start" >Castlegar</text>
<text x="738" y="399.5" font-size="4.9" fill="#3c3c3c" font-weight="700" text-anchor="start" >Cranbrook</text>
<text x="621" y="414" font-size="4.9" fill="#3c3c3c" font-weight="700" text-anchor="start" >Chilliwack</text>
<text x="599.5" y="407.5" font-size="4.9" fill="#3c3c3c" font-weight="700" text-anchor="start" >ver</text>
<text x="599.5" y="421.5" font-size="4.9" fill="#3c3c3c" font-weight="700" text-anchor="start" >bbotsford</text>
<text x="704.5" y="420.2" font-size="4.9" fill="#3c3c3c" font-weight="700" text-anchor="start" >Trail</text>
<text x="896" y="248" font-size="4.9" fill="#3c3c3c" font-weight="700" text-anchor="start" >Meadow</text>
<text x="900.4" y="254.5" font-size="4.9" fill="#3c3c3c" font-weight="700" text-anchor="start" >Lake</text>
<text x="871.8" y="271" font-size="4.9" fill="#444" font-weight="700" text-anchor="start" >minster</text>
<text x="856" y="271" font-size="4.9" fill="#8db9d3" font-weight="700" text-anchor="start" >Lloyd</text>
<text x="931" y="311" font-size="4.9" fill="#3c3c3c" font-weight="700" text-anchor="start" >S</text>
<text x="934" y="419" font-size="6.8" fill="#c4c4c4" font-weight="400" text-anchor="end" >Map data © OpenStreetMap</text>
<rect x="716.6" y="410" width="20" height="14" rx="2" fill="#f3f4f5" filter="url(#sh)"/>
<text x="727.3" y="420.3" font-size="8.2" fill="#666" font-weight="400" text-anchor="middle"  textLength="15.8" lengthAdjust="spacingAndGlyphs">2016</text>
<text x="964.5" y="20" font-size="8.4" fill="#3a3a3a" font-weight="700" text-anchor="middle"  textLength="45.4" lengthAdjust="spacingAndGlyphs">Population1</text>
<text x="964.6" y="31.5" font-size="8.4" fill="#3a3a3a" font-weight="700" text-anchor="middle"  textLength="35.3" lengthAdjust="spacingAndGlyphs">(millions)</text>
<rect x="949.8" y="40.5" width="8.4" height="372" fill="url(#legG)" stroke="#555" stroke-width="1"/>
<line x1="958" y1="40.5" x2="962" y2="40.5" stroke="#555" stroke-width="1"/>
<line x1="958" y1="412.5" x2="962" y2="412.5" stroke="#555" stroke-width="1"/>
<text x="965" y="43.8" font-size="7.4" fill="#8c8c8c" font-weight="400" text-anchor="start" >3.04</text>
<text x="965" y="414.5" font-size="7.4" fill="#8c8c8c" font-weight="400" text-anchor="start" >0.01</text>
<rect x="599.5" y="430" width="391.5" height="14.5" fill="#fff" stroke="#d8d8d8" stroke-width="1"/>
<path d="M608.3 434.5 L614.5 438.2 L608.3 442 Z" fill="none" stroke="#222" stroke-width="1.3"/>
<path d="M633 435.5 L628.8 438.8 L633 442 Z" fill="#222"/><rect x="634.2" y="435.5" width="1.6" height="6.5" fill="#222"/>
<path d="M646.4 435.5 L650.8 438.8 L646.4 442 Z" fill="#222"/><rect x="643.2" y="435.5" width="1.6" height="6.5" fill="#222"/>
<text x="659.1" y="440.9" font-size="8.9" fill="#333" font-weight="700" text-anchor="start"  textLength="39.3" lengthAdjust="spacingAndGlyphs">Year_Date</text>
<text x="704.8" y="440.6" font-size="7.3" fill="#999" font-weight="400" text-anchor="start" >2016</text>
<line x1="731" y1="437.7" x2="948.4" y2="437.7" stroke="#c8c8c8" stroke-width="1"/>
<circle cx="727.6" cy="437.7" r="3.6" fill="#fff" stroke="#c4c4c4" stroke-width="1"/>
<circle cx="727.6" cy="437.7" r="1.1" fill="#aaa"/>
<text x="954.4" y="440.4" font-size="7.4" fill="#8c8c8c" font-weight="400" text-anchor="start" >2051</text>
<circle cx="982.8" cy="434.5" r="0.9" fill="#222"/>
<circle cx="982.8" cy="437.7" r="0.9" fill="#222"/>
<circle cx="982.8" cy="440.9" r="0.9" fill="#222"/>
</svg></body></html>
